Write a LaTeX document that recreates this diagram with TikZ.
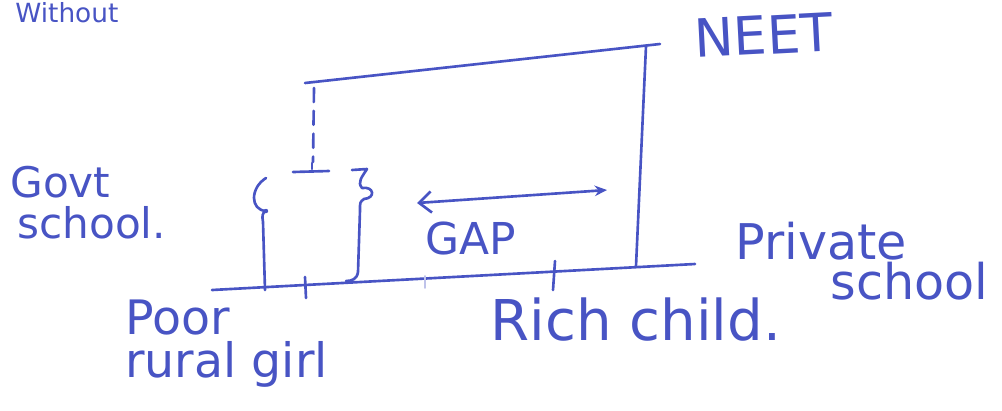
\documentclass[tikz,border=0pt]{standalone}
\usepackage{fontspec}
\setmainfont{DejaVu Sans}
\usepackage{xcolor}
\usetikzlibrary{arrows.meta, positioning}
\definecolor{ink}{RGB}{72,84,196}
\tikzset{
  pen/.style={draw=ink, line width=1.5pt, line cap=round, line join=round},
  faintpen/.style={draw=ink!35, line width=1pt, line cap=round},
  handtext/.style={text=ink, inner sep=0pt, anchor=base west},
  handblock/.style={text=ink, inner sep=0pt, anchor=north west, align=left},
  gaparrow/.style={pen, {Straight Barb[length=7pt,width=12pt]}-{Stealth[length=7pt,width=6pt]}},
}

\begin{document}
\begin{tikzpicture}[x=0.2mm, y=-0.2mm]
  \useasboundingbox (0,0) rectangle (1002,410);

  % ground line and the ticks on it
  \coordinate (baseL) at (212,290);
  \coordinate (baseR) at (695,264);
  \draw[pen] (baseL) -- (baseR);
  \draw[pen] (305,277) -- (306,298);
  \draw[pen] (555,261) -- (553,290);
  \draw[faintpen] (425,276) -- (425,288);

  % NEET frame
  \coordinate (topL) at (305,83);
  \coordinate (topR) at (660,44);
  \coordinate (cornerR) at (646,46);
  \coordinate (footR) at (636,266);
  \draw[pen] (topL) -- (topR);
  \draw[pen] (cornerR) -- (footR);

  % dashed drop from the top line
  \coordinate (dropT) at (314,88);
  \coordinate (dropB) at (313,162);
  \draw[pen, dash pattern=on 8pt off 5pt] (dropT) -- (dropB);
  \coordinate (barL) at (293,172);
  \coordinate (barR) at (329,171);
  \draw[pen] (barL) -- (barR);
  \draw[pen] (312,163) -- (312,169);

  % braces
  \draw[pen] (266,178) .. controls (250,188) and (250,210) .. (266,211)
    .. controls (262,213) and (262,216) .. (263,222) -- (265,290);
  \fill[ink] (266,211) circle (2.2);
  \draw[pen] (352,170) -- (367,169) .. controls (362,177) and (357,182) .. (362,188)
    .. controls (374,186) and (376,198) .. (364,199) .. controls (360,202) .. (360,210)
    -- (358,272) .. controls (357,279) and (352,281) .. (346,281);

  % gap arrow
  \coordinate (gapL) at (417,203);
  \coordinate (gapR) at (607,190);
  \draw[gaparrow] (gapL) -- (gapR);

  % labels
  \node[handtext, font=\fontsize{15}{18}\selectfont] (without) at (15,22) {Without};
  \node[handtext, font=\fontsize{30}{36}\selectfont, rotate=3] (neet) at (695,58) {NEET};
  \node[handtext, font=\fontsize{25}{30}\selectfont] (gap) at (425,254) {GAP};
  \node[handblock, font=\fontsize{24}{23}\selectfont] (govt) at (10,166)
    {Govt\\\hspace*{1.4mm}school.};
  \node[handblock, font=\fontsize{28}{19}\selectfont] (priv) at (735,222)
    {Private\\\hspace*{19mm}school};
  \node[handblock, font=\fontsize{27}{24.4}\selectfont] (poor) at (125,300)
    {Poor\\rural girl};
  \node[handtext, font=\fontsize{32}{38}\selectfont] (rich) at (490,340) {Rich child.};
\end{tikzpicture}
\end{document}
